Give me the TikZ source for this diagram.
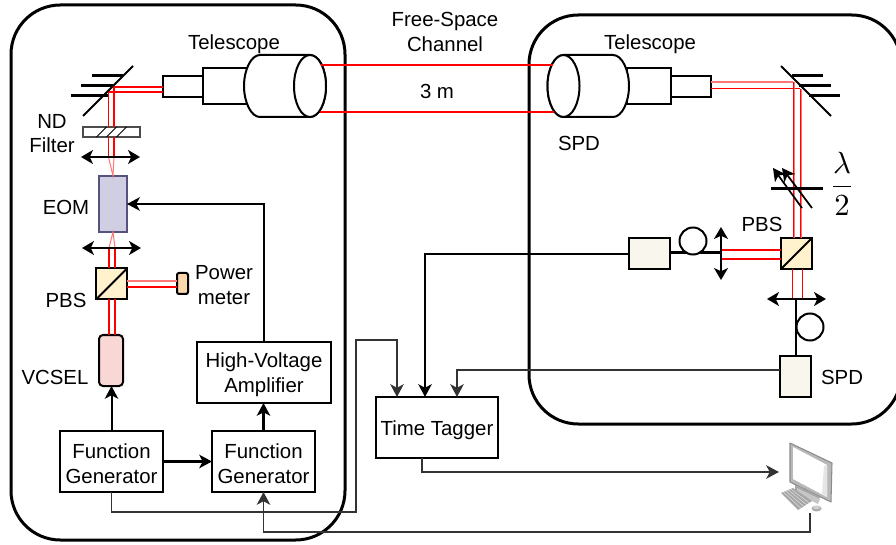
\documentclass[tikz,border=0pt]{standalone}
\usepackage{fontspec}
\setmainfont{Liberation Sans}
\usetikzlibrary{arrows.meta,shapes.geometric}
\definecolor{beam}{RGB}{255,0,0}
\definecolor{beamlight}{RGB}{255,120,120}
\newcommand{\lowerline}{\rule{0pt}{14.6pt}}
\tikzset{
  x=0.75pt,y=-0.75pt,
  lab/.style={inner sep=0pt,outer sep=0pt,font=\fontsize{15.3pt}{18.4pt}\selectfont,align=center},
  sized/.style n args={2}{minimum width=#1*0.75pt,minimum height=#2*0.75pt,inner sep=0pt,outer sep=0pt},
  box/.style={draw=black,line width=1.5pt,fill=white,lab},
  panel/.style={draw=black,line width=2.25pt,rounded corners=37pt},
  wire/.style={draw=black!80,line width=1.4pt},
  tip/.style={-{Stealth[length=9.5pt,width=10pt,inset=2.5pt]}},
  dbl/.style={line width=2pt,{Stealth[length=9pt,width=10.5pt,inset=2.5pt]}-{Stealth[length=9pt,width=10.5pt,inset=2.5pt]}},
  bar/.style={line width=2.25pt,draw=black},
  thinln/.style={line width=1.5pt,draw=black},
  redb/.style={draw=beam,line width=1.5pt},
  redt/.style={draw=beam,line width=1pt},
  redl/.style={draw=beamlight,line width=1pt},
  cube/.style={draw=black,line width=1.5pt,fill={rgb,255:red,255;green,242;blue,204},sized={31}{31}},
  spdbox/.style={draw=black,line width=1.5pt,fill={rgb,255:red,249;green,247;blue,237}},
  tele/.style={draw=black,line width=1.5pt,fill=white},
}
\begin{document}
\begin{tikzpicture}
\useasboundingbox (0,0) rectangle (896,545);
% panels
\node[panel,sized={334}{535}] (pL) at (178,272.5) {};
\node[panel,sized={372}{409}] (pR) at (715,219.5) {};

% ---- left optics
\node[draw={rgb,255:red,86;green,81;blue,126},line width=1.5pt,fill={rgb,255:red,208;green,206;blue,226},sized={28}{56}] (eom) at (113,204) {};
\node[cube] (pbsL) at (111.5,284) {};
\draw[thinln] (pbsL.south west) -- (pbsL.north east);
\node[draw=black,line width=1.5pt,fill={rgb,255:red,248;green,215;blue,212},rounded corners=3pt,sized={24}{51}] (vcsel) at (111,360.5) {};
\node[draw=black,line width=1.5pt,fill={rgb,255:red,250;green,215;blue,172},rounded corners=1.5pt,sized={11}{21}] (pm) at (182.5,283.5) {};
\node[draw=black!70,line width=1pt,fill=white,sized={57}{10}] (nd) at (111.5,132) {};
\foreach \dx in {-10,0,10}
  \draw[black,line width=0.7pt] ([shift={(\dx-5,5)}]nd.center) -- ([shift={(\dx+5,-5)}]nd.center);

% telescope left
\node[tele,sized={40}{21}] (tl1) at (183,86.5) {};
\node[tele,sized={44}{36}] (tl2) at (225,86) {};
\node[ellipse,tele,sized={32}{62}] (tl3) at (310,86) {};
\fill[white] (tl3.north) -- (260,55) .. controls (251,55) and (244,70) .. (244,86) .. controls (244,102) and (251,117) .. (260,117) -- (tl3.south) -- cycle;
\draw[thinln] (tl3.north) -- (260,55) .. controls (251,55) and (244,70) .. (244,86) .. controls (244,102) and (251,117) .. (260,117) -- (tl3.south);
\node[ellipse,tele,sized={32}{62}] at (310,86) {};

% telescope right
\node[tele,sized={40}{21}] (tr1) at (691,86.5) {};
\node[tele,sized={44}{36}] (tr2) at (649,86) {};
\node[ellipse,tele,sized={32}{62}] (tr3) at (563.5,86) {};
\fill[white] (tr3.north) -- (613,55) .. controls (622,55) and (629,70) .. (629,86) .. controls (629,102) and (622,117) .. (613,117) -- (tr3.south) -- cycle;
\draw[thinln] (tr3.north) -- (613,55) .. controls (622,55) and (629,70) .. (629,86) .. controls (629,102) and (622,117) .. (613,117) -- (tr3.south);
\node[ellipse,tele,sized={32}{62}] at (563.5,86) {};

% free-space beams
\coordinate (fsLt) at (321,65); \coordinate (fsRt) at (553,65);
\coordinate (fsLb) at (320,112); \coordinate (fsRb) at (554,112);
\draw[redb] (fsLt) -- (fsRt);
\draw[redt] (fsLb) -- (fsRb);

% mirror left
\coordinate (mLa) at (83,116); \coordinate (mLb) at (133,66);
\draw[thinln] (mLa) -- (mLb);
\draw[bar] (71,96) -- (108,96);
\draw[bar] (81,86) -- (113,86);
\draw[bar] (92,76) -- (123,76);

% left beams
\coordinate (bA) at (108.5,92); \coordinate (bB) at (114,87);
\draw[redb] (bB) -- (tl1.west |- bB);
\draw[redb] (bA) -- (tl1.west |- bA);
\draw[redt] (bA) -- (bA |- nd.north);
\draw[redt] (bB) -- (bB |- nd.north);
\coordinate (ndA) at (108.5,137); \coordinate (ndB) at (114,137);
\coordinate (fA) at (108.5,157); \coordinate (fB) at (114,157);
\draw[redt] (ndA) -- (fA);
\draw[redt] (ndB) -- (fB);
\draw[redl,line width=.75pt] (fA) -- (eom.north) -- (fB);

% EOM to PBS
\coordinate (lA) at (109,248); \coordinate (lB) at (115,248);
\draw[redl,line width=.75pt] (lA) -- (eom.south) -- (lB);
\draw[redb] (lA) -- (lA |- pbsL.north);
\draw[redb] (lB) -- (lB |- pbsL.north);
\draw[redb] (lA |- pbsL.south) -- (lA |- vcsel.north);
\draw[redb] (lB |- pbsL.south) -- (lB |- vcsel.north);
\coordinate (pA) at (127,281.5); \coordinate (pB) at (127,287);
\draw[redl,line width=1.5pt] (pA) -- (pA -| pm.west);
\draw[redb] (pB) -- (pB -| pm.west);

% lenses left
\coordinate (l1a) at (81,157); \coordinate (l1b) at (140,157);
\coordinate (l2a) at (82,248); \coordinate (l2b) at (141,248);
\draw[dbl] (l1a) -- (l1b);
\draw[dbl] (l2a) -- (l2b);

% ---- electronics
\node[box,sized={103}{61}] (fg1) at (111.5,461.5) {\lowerline Function\\Generator};
\node[box,sized={103}{61}] (fg2) at (263.5,461.5) {\lowerline Function\\Generator};
\node[box,sized={134}{61}] (hv) at (264,372.5) {\lowerline High-Voltage\\Amplifier};
\node[box,sized={122}{61}] (tt) at (437,427.5) {\lowerline Time Tagger};

\draw[thinln,tip] (fg1.north) -- (fg1.north |- vcsel.south);
\draw[thinln,tip,line width=2.2pt] (fg1.east) -- (fg2.west);
\draw[thinln,tip,line width=2.2pt] (fg2.north) -- (fg2.north |- hv.south);
\coordinate (hvc) at (264,204);
\draw[thinln,tip] (hv.north) -- (hvc) -- (eom.east);
\coordinate (w1) at (111.5,512); \coordinate (w2) at (356,512);
\coordinate (w3) at (356,340); \coordinate (w4) at (397,340);
\draw[wire,tip] (fg1.south) -- (w1) -- (w2) -- (w3) -- (w4) -- (w4 |- tt.north);

% ---- right optics
\coordinate (mRa) at (781,66); \coordinate (mRb) at (831,116);
\draw[thinln] (mRa) -- (mRb);
\draw[bar] (792,76) -- (823,76);
\draw[bar] (799,86) -- (831,86);
\draw[bar] (809,96) -- (840,96);
\coordinate (rA) at (793,82); \coordinate (rB) at (800,89);
\node[cube] (pbsR) at (796.5,253.5) {};
\draw[thinln] (pbsR.south west) -- (pbsR.north east);
\draw[redl] (tr1.east |- rA) -- (rA);
\draw[redt,line width=.75pt] (tr1.east |- rB) -- (rB);
\draw[redl,line width=.75pt] ([xshift=.8pt]rA) -- ([xshift=.8pt]rA |- pbsR.north);
\draw[redl,line width=.75pt] ([xshift=.8pt]rB) -- ([xshift=.8pt]rB |- pbsR.north);
\draw[redt,line width=.75pt] (rA) -- (rA |- pbsR.north);
\draw[redt,line width=.75pt] (rB) -- (rB |- pbsR.north);

% half-wave plate
\coordinate (hwa) at (771,189); \coordinate (hwb) at (823,189);
\draw[bar] (hwa) -- (hwb);
\coordinate (ha1) at (802,208); \coordinate (ha2) at (773,168);
\coordinate (hb1) at (812,208); \coordinate (hb2) at (782,168);
\draw[thinln,tip,line width=1.3pt] (ha1) -- (ha2);
\draw[thinln,tip,line width=1.3pt] (hb1) -- (hb2);
\node[inner sep=0pt,scale=2.3] (lam) at (842,184) {$\displaystyle\frac{\lambda}{2}$};

% fibre box upper
\node[spdbox,sized={41}{31}] (fb) at (649.5,253.5) {};
\coordinate (len1) at (721,253);
\draw[bar] (fb.east |- len1) -- (len1);
\node[circle,draw=black,line width=1.5pt,fill=white,sized={27}{27}] (loop1) at (693,241) {};
\coordinate (len1a) at (721,227); \coordinate (len1b) at (721,280);
\coordinate (hA) at (781,250); \coordinate (hB) at (781,259);
\draw[redb] (hA) -- (hA -| len1);
\draw[redb] (hB) -- (hB -| len1);
\draw[dbl] (len1a) -- (len1b);

% SPD lower
\node[spdbox,sized={31}{41}] (spd) at (795.5,376.5) {};
\coordinate (len2) at (796,299);
\coordinate (len2a) at (767,299); \coordinate (len2b) at (826,299);
\draw[thinln] (len2) -- (len2 |- spd.north);
\node[circle,draw=black,line width=1.5pt,fill=white,sized={27}{27}] (loop2) at (810,327) {};
\coordinate (dA) at (792.5,269); \coordinate (dB) at (802.5,269);
\draw[redt] (dA) -- (dA |- len2);
\draw[redt] (dB) -- (dB |- len2);
\draw[dbl] (len2a) -- (len2b);

% wires to tagger
\coordinate (w5) at (425,254);
\draw[thinln,tip] (fb.west |- w5) -- (w5) -- (w5 |- tt.north);
\coordinate (w6) at (457,370);
\draw[wire,tip] (spd.west |- w6) -- (w6) -- (w6 |- tt.north);

% computer
\coordinate (pcIn) at (779,472);
\coordinate (pcOut) at (810,513);
\fill[gray!55] (790,443) -- (832,463) -- (831,502) -- (790,482) -- cycle;
\draw[black!45,line width=.8pt,line join=round] (790,443) -- (832,463) -- (831,502) -- (790,482) -- cycle;
\fill[white] (793,447) -- (827,465) -- (827,497) -- (793,479) -- cycle;
\fill[black!10] (827,465) -- (827,497) -- (822,494) -- (824,466) -- cycle;
\fill[gray!70] (795,485) -- (820,497) -- (818,501) -- (795,490) -- cycle;
\fill[gray!45] (797,488) -- (820,499) -- (818,504) -- (797,494) -- cycle;
\fill[gray!70] (781,493) -- (793,488) -- (812,501) -- (798,510) -- cycle;
\foreach \t in {0.2,0.4,0.6,0.8}
  \draw[gray!25,line width=.4pt] (781+\t*12,493-\t*5) -- (798+\t*14,510-\t*9);
\fill[gray!65] (816.5,508.5) ellipse [x radius=5,y radius=3];
\fill[gray!35] (816.5,507.5) ellipse [x radius=3.5,y radius=1.5];

\coordinate (w7) at (422,472);
\coordinate (ttS) at (422,458);
\draw[wire,tip] (ttS) -- (w7) -- (pcIn);
\coordinate (w8) at (810,532); \coordinate (w9) at (263.5,532);
\draw[wire,tip] (pcOut) -- (w8) -- (w9) -- (fg2.south);

% labels
\node[lab] (t1) at (234,44) {Telescope};
\node[lab] (t2) at (650,44) {Telescope};
\node[lab] (t3) at (445,32) {Free-Space\\Channel};
\node[lab] (t4) at (437,91) {3 m};
\node[lab] (t5) at (579,143) {SPD};
\node[lab] (t6) at (52,133.5) {ND\\Filter};
\node[lab] (t7) at (66,207.5) {EOM};
\node[lab] (t8) at (66,300.5) {PBS};
\node[lab] (t9) at (55,377.5) {VCSEL};
\node[lab] (t10) at (224,285) {Power\\meter};
\node[lab] (t11) at (762,224.5) {PBS};
\node[lab] (t12) at (842,377.5) {SPD};
\end{tikzpicture}
\end{document}
